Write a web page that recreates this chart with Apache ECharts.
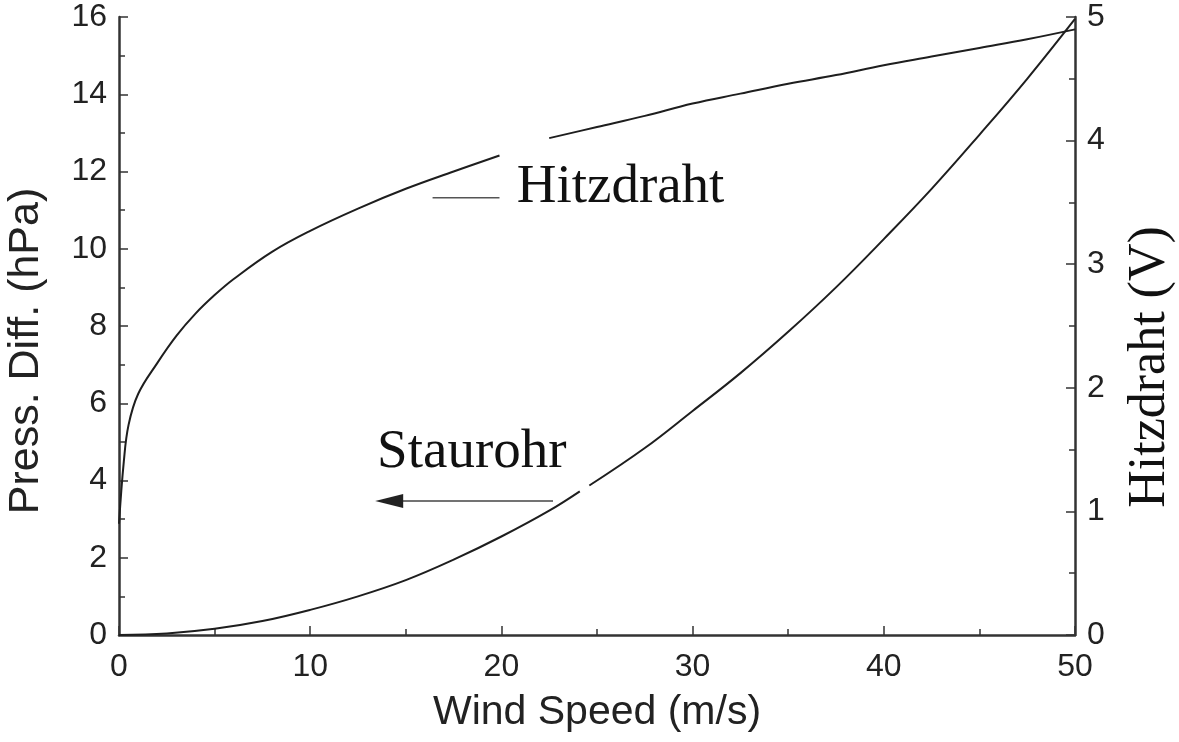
<!DOCTYPE html>
<html>
<head>
<meta charset="utf-8">
<script src="https://cdn.jsdelivr.net/npm/echarts@6/dist/echarts.min.js"></script>
<style>
  html, body { margin: 0; padding: 0; background: #fff; }
  #chart { width: 1179px; height: 742px; }
</style>
</head>
<body>
<div id="chart"></div>
<script>
// Staurohr: pressure difference (hPa) vs wind speed, null = gap in the printed curve
const stauWind = [0, 2.5, 5, 7.5, 10, 12.5, 15, 17.5, 20, 22.5, 24.1, 24.3, 24.6, 27.5, 30, 32.5, 35, 37.5, 40, 42.5, 45, 47.5, 50]
const stauPress = [0, 0.04, 0.16, 0.36, 0.65, 1.0, 1.42, 1.95, 2.55, 3.22, 3.72, null, 3.87, 4.84, 5.8, 6.78, 7.85, 9.0, 10.25, 11.55, 12.95, 14.4, 15.95]

// Hitzdraht: hot wire voltage (V) vs wind speed
const hitzWind = [0, 0.25, 0.5, 1, 2, 3, 4, 5, 6, 8, 10, 12.5, 15, 17.5, 19.9, 21, 22.5, 25, 27.5, 30, 32.5, 35, 37.5, 40, 42.5, 45, 47.5, 50]
const hitzVolt = [0.9, 1.4, 1.7, 1.95, 2.2, 2.42, 2.6, 2.75, 2.88, 3.1, 3.27, 3.45, 3.61, 3.75, 3.88, null, 4.02, 4.11, 4.2, 4.3, 4.38, 4.46, 4.53, 4.61, 4.68, 4.75, 4.82, 4.9]

const xTicks = [0, 10, 20, 30, 40, 50]
const pressTicks = [0, 2, 4, 6, 8, 10, 12, 14, 16]
const voltTicks = [0, 1, 2, 3, 4, 5]

const ink = '#1e1e1e'
const sans = 'Liberation Sans'
const serif = 'Liberation Serif'

function pairs(xs, ys) {
  return xs.map((x, i) => [x, ys[i]])
}

const chart = echarts.init(document.getElementById('chart'))

function valueAxis(min, max, interval, pos, extra) {
  return Object.assign({
    type: 'value',
    position: pos,
    min: min,
    max: max,
    interval: interval,
    axisLine: { show: true, onZero: false, lineStyle: { color: '#333', width: 2.5 } },
    axisTick: { show: true, inside: true, length: 9, lineStyle: { color: '#333', width: 1.5 } },
    minorTick: { show: true, splitNumber: 2, length: 6, lineStyle: { color: '#333', width: 1.5 } },
    splitLine: { show: false },
    axisLabel: { color: '#222', fontFamily: sans, fontSize: 32, margin: 12 }
  }, extra)
}

var option = {
  animation: false,
  backgroundColor: '#fff',
  grid: { left: 119, right: 104, top: 17, bottom: 107, outerBoundsMode: 'none' },
  xAxis: valueAxis(xTicks[0], xTicks[xTicks.length - 1], 10, 'bottom', {
    name: 'Wind Speed (m/s)',
    nameLocation: 'middle',
    nameGap: 57,
    nameTextStyle: { color: '#222', fontFamily: sans, fontSize: 41 },
    axisLabel: { color: '#222', fontFamily: sans, fontSize: 32, margin: 16 }
  }),
  yAxis: [
    valueAxis(pressTicks[0], pressTicks[pressTicks.length - 1], 2, 'left'),
    valueAxis(voltTicks[0], voltTicks[voltTicks.length - 1], 1, 'right')
  ],
  series: [
    {
      name: 'Staurohr',
      type: 'line',
      yAxisIndex: 0,
      data: pairs(stauWind, stauPress),
      smooth: 0.4,
      showSymbol: false,
      connectNulls: false,
      lineStyle: { color: ink, width: 2 }
    },
    {
      name: 'Hitzdraht',
      type: 'line',
      yAxisIndex: 1,
      data: pairs(hitzWind, hitzVolt),
      smooth: 0.4,
      showSymbol: false,
      connectNulls: false,
      lineStyle: { color: ink, width: 2 }
    }
  ]
};

chart.setOption(option)

// annotations placed in data coordinates of the left axis
const toPx = (x, y) => chart.convertToPixel({ xAxisIndex: 0, yAxisIndex: 0 }, [x, y])
const hLineA = toPx(16.4, 11.32), hLineB = toPx(19.9, 11.32)
const hText = toPx(20.8, 10.88)
const arrA = toPx(22.7, 3.47), arrB = toPx(13.4, 3.47)
const sText = toPx(13.5, 4.0)

chart.setOption({
  graphic: [
    { type: 'text', x: 26, y: 351, rotation: Math.PI / 2,
      style: { text: 'Press. Diff. (hPa)', font: '43px "Liberation Sans"', fill: '#222', align: 'center', verticalAlign: 'middle' } },
    { type: 'text', x: 1150, y: 367, rotation: Math.PI / 2,
      style: { text: 'Hitzdraht (V)', font: '52px "Liberation Serif"', fill: '#111', align: 'center', verticalAlign: 'middle' } },
    { type: 'line', shape: { x1: hLineA[0], y1: hLineA[1], x2: hLineB[0], y2: hLineB[1] },
      style: { stroke: '#555', lineWidth: 1.5 } },
    { type: 'text', x: hText[0], y: hText[1],
      style: { text: 'Hitzdraht', font: '55px "Liberation Serif"', fill: '#111', textVerticalAlign: 'bottom' } },
    { type: 'line', shape: { x1: arrA[0], y1: arrA[1], x2: arrB[0] + 20, y2: arrB[1] },
      style: { stroke: '#444', lineWidth: 1.5 } },
    { type: 'polygon', shape: { points: [[arrB[0], arrB[1]], [arrB[0] + 28, arrB[1] - 7], [arrB[0] + 28, arrB[1] + 7]] },
      style: { fill: '#222' } },
    { type: 'text', x: sText[0], y: sText[1],
      style: { text: 'Staurohr', font: '55px "Liberation Serif"', fill: '#111', textVerticalAlign: 'bottom' } }
  ]
})
</script>
</body>
</html>
